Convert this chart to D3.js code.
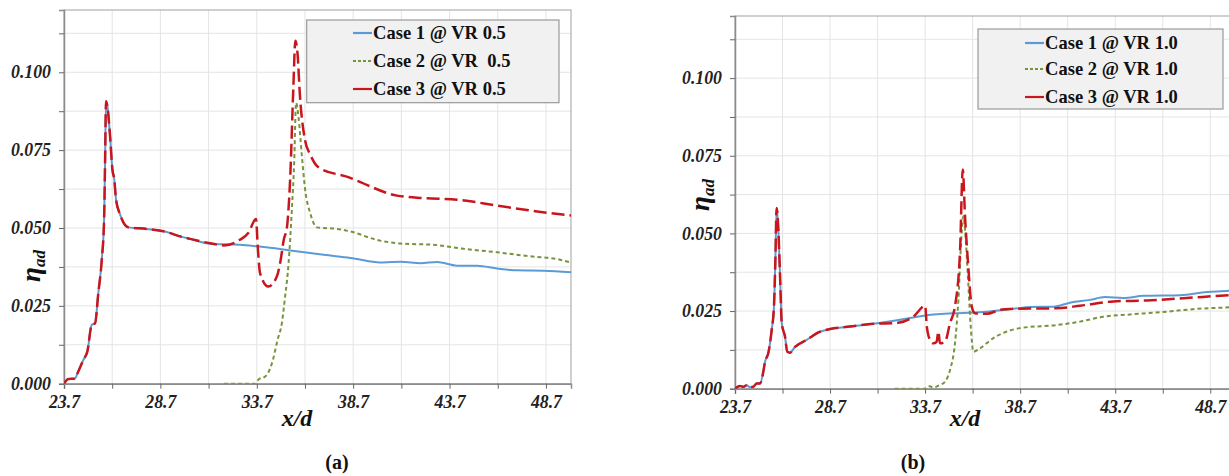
<!DOCTYPE html>
<html><head><meta charset="utf-8">
<script src="https://cdn.jsdelivr.net/npm/d3@7"></script>
<style>
html,body{margin:0;padding:0;background:#fff;}
svg text{font-family:"Liberation Serif","Times New Roman",serif;}
</style></head>
<body><svg id="chart" width="1229" height="476"></svg>
<script>
// ---------- DATA ----------
const xTickValues = [23.7, 26.2, 28.7, 31.2, 33.7, 36.2, 38.7, 41.2, 43.7, 46.2, 48.7];
const xTickLabels = ["23.7", "28.7", "33.7", "38.7", "43.7", "48.7"];
const yTickValues = [0, 0.0125, 0.025, 0.0375, 0.05, 0.0625, 0.075, 0.0875, 0.1, 0.1125];
const yTickLabels = ["0.000", "0.025", "0.050", "0.075", "0.100"];

const legendA = ["Case 1 @ VR 0.5", "Case 2 @ VR  0.5", "Case 3 @ VR 0.5"];
const legendB = ["Case 1 @ VR 1.0", "Case 2 @ VR 1.0", "Case 3 @ VR 1.0"];

const case1VR05 = [[23.7,0],[23.92,0.0015],[24.27,0.0017],[24.44,0.0039],[24.70,0.0076],[24.91,0.0103],[25.14,0.0189],[25.31,0.0194],[25.48,0.0291],[25.66,0.0398],[25.78,0.0527],[25.83,0.0709],[25.88,0.0907],[25.95,0.0891],[26.09,0.0795],[26.21,0.0688],[26.31,0.0655],[26.40,0.0591],[26.61,0.0543],[27.04,0.0502],[27.99,0.0497],[29.03,0.0487],[29.72,0.0473],[30.24,0.0465],[31.28,0.0449],[32.83,0.0446],[33.70,0.0441],[35.44,0.0428],[37.17,0.0414],[38.55,0.0404],[40.28,0.0389],[41.17,0.0392],[42.2,0.0387],[43.05,0.0391],[44.09,0.0379],[45.13,0.0379],[46.17,0.0370],[47.2,0.0364],[48.59,0.0363],[50.0,0.0358]];
const case2VR05 = [[32.0,0],[33.62,0],[33.80,0.0014],[34.14,0.0023],[34.49,0.0066],[34.78,0.0141],[35.0,0.0194],[35.17,0.0280],[35.35,0.0387],[35.52,0.0559],[35.64,0.0709],[35.74,0.0902],[35.86,0.0859],[36.04,0.0731],[36.21,0.0623],[36.47,0.0548],[36.82,0.0502],[37.85,0.0497],[38.55,0.0489],[39.92,0.0462],[41.14,0.0450],[42.87,0.0446],[44.43,0.0433],[46.17,0.0422],[47.90,0.0409],[49.29,0.0400],[50,0.0389]];
const case3VR05 = [[23.7,0],[23.92,0.0015],[24.27,0.0017],[24.44,0.0039],[24.70,0.0076],[24.91,0.0103],[25.14,0.0189],[25.31,0.0194],[25.48,0.0291],[25.66,0.0398],[25.78,0.0527],[25.83,0.0709],[25.88,0.0907],[25.95,0.0891],[26.09,0.0795],[26.21,0.0688],[26.31,0.0655],[26.40,0.0591],[26.61,0.0543],[27.04,0.0502],[27.99,0.0497],[29.03,0.0487],[29.72,0.0473],[30.24,0.0465],[31.28,0.0451],[32.0,0.0444],[32.83,0.0462],[33.26,0.0484],[33.66,0.0529],[33.75,0.0441],[33.87,0.0355],[34.30,0.0312],[34.74,0.0344],[34.91,0.0387],[35.12,0.0468],[35.25,0.0495],[35.43,0.0656],[35.60,0.0956],[35.70,0.1101],[35.81,0.1063],[35.94,0.0924],[36.21,0.0780],[36.47,0.0736],[36.90,0.0695],[38.55,0.0661],[38.9,0.0652],[40.97,0.0604],[42.35,0.0596],[44.09,0.0591],[46.17,0.0572],[48.24,0.0553],[50,0.0540]];

const case1VR10 = [[23.7,0],[23.96,0.0009],[24.14,0.0006],[24.32,0.0011],[24.49,0.0005],[24.66,0.0006],[24.84,0.0017],[25.02,0.0017],[25.19,0.0055],[25.28,0.0087],[25.45,0.0114],[25.63,0.0189],[25.75,0.0265],[25.82,0.0405],[25.89,0.0582],[25.98,0.0512],[26.07,0.0361],[26.16,0.0211],[26.33,0.0168],[26.45,0.0119],[26.59,0.0116],[26.86,0.0135],[27.47,0.0157],[28.08,0.0181],[28.7,0.0192],[29.75,0.0200],[30.98,0.0209],[32.38,0.0222],[33.7,0.0236],[35.18,0.0243],[36.24,0.0245],[38.34,0.0257],[39.22,0.0263],[40.44,0.0264],[41.32,0.0277],[42.37,0.0286],[43.16,0.0295],[44.13,0.0292],[45.18,0.0299],[47.11,0.0301],[48.51,0.0311],[49.68,0.0315],[50,0.0317]];
const case2VR10 = [[32.1,0],[33.7,0],[33.87,0.0009],[34.13,0.0004],[34.48,0.0012],[34.75,0.0023],[35.01,0.0060],[35.27,0.0146],[35.45,0.0286],[35.62,0.0501],[35.71,0.0555],[35.85,0.0469],[35.97,0.0340],[36.10,0.0200],[36.24,0.0119],[36.59,0.0130],[37.29,0.0163],[37.99,0.0184],[38.69,0.0195],[40.62,0.0205],[41.85,0.0216],[43.07,0.0232],[44.48,0.0239],[46.23,0.0247],[47.99,0.0257],[49.68,0.0262],[50,0.0263]];
const case3VR10 = [[23.7,0],[23.96,0.0009],[24.14,0.0006],[24.32,0.0011],[24.49,0.0005],[24.66,0.0006],[24.84,0.0017],[25.02,0.0017],[25.19,0.0055],[25.28,0.0087],[25.45,0.0114],[25.63,0.0189],[25.75,0.0265],[25.82,0.0405],[25.89,0.0582],[25.98,0.0512],[26.07,0.0361],[26.16,0.0211],[26.33,0.0168],[26.45,0.0119],[26.59,0.0116],[26.86,0.0135],[27.47,0.0157],[28.08,0.0181],[28.7,0.0192],[29.75,0.0200],[30.98,0.0209],[32.12,0.0211],[33.08,0.0232],[33.70,0.0267],[33.79,0.0200],[33.96,0.0157],[34.13,0.0146],[34.30,0.0150],[34.40,0.0184],[34.48,0.0146],[34.75,0.0152],[35.01,0.0211],[35.27,0.0265],[35.54,0.0447],[35.68,0.0706],[35.80,0.0555],[35.97,0.0394],[36.15,0.0265],[36.32,0.0243],[36.94,0.0241],[37.64,0.0254],[38.17,0.0257],[40.62,0.0259],[41.85,0.0267],[43.6,0.0281],[45.36,0.0284],[47.46,0.0292],[49.68,0.0301],[50,0.0302]];

// ---------- DRAWING ----------
const svg = d3.select("#chart");
const colors = ["#5b9bd5", "#77933c", "#c8161d"];
const dashes = [null, "4,3", "13,5"];
const widths = [2, 2, 2.5];

// size a font so that a sample text reaches a target width
function fitFont(weight, style, sample, target, base) {
  const t = svg.append("text").attr("font-size", base).attr("font-weight", weight)
    .attr("font-style", style).text(sample);
  const w = t.node().getComputedTextLength();
  t.remove();
  return w > 0 ? base * target / w : base;
}
const tickFont = fitFont("bold", "italic", "0.100", 40, 17);
const legendFont = fitFont("bold", "normal", "Case 1 @ VR 0.5", 133, 18);

function panel(cfg) {
  const x = d3.scaleLinear().domain([23.7, 50]).range([cfg.left, cfg.right]);
  const y = d3.scaleLinear().domain([0, 0.12]).range([cfg.bottom, cfg.top]);
  const g = svg.append("g");
  const clipId = "clip" + cfg.id;
  g.append("clipPath").attr("id", clipId).append("rect")
    .attr("x", cfg.left).attr("y", cfg.top)
    .attr("width", cfg.right - cfg.left).attr("height", cfg.bottom - cfg.top);

  // grid
  g.append("g").selectAll("line").data(xTickValues.slice(1)).join("line")
    .attr("x1", d => x(d)).attr("x2", d => x(d)).attr("y1", cfg.top).attr("y2", cfg.bottom)
    .attr("stroke", "#e4e4e4").attr("stroke-width", 1);
  g.append("g").selectAll("line").data(yTickValues.slice(1)).join("line")
    .attr("x1", cfg.left).attr("x2", cfg.right).attr("y1", d => y(d)).attr("y2", d => y(d))
    .attr("stroke", "#e4e4e4").attr("stroke-width", 1);

  // frame
  g.append("rect").attr("x", cfg.left).attr("y", cfg.top)
    .attr("width", cfg.right - cfg.left).attr("height", cfg.bottom - cfg.top)
    .attr("fill", "none").attr("stroke", "#a0a0a0").attr("stroke-width", 1);

  // axes
  const xAxis = d3.axisBottom(x).tickValues(xTickValues).tickSize(5).tickPadding(4)
    .tickFormat(d => xTickLabels.includes(d.toFixed(1)) ? d.toFixed(1) : "");
  const xa = g.append("g").attr("transform", `translate(0,${cfg.bottom})`).call(xAxis);
  const yAxis = d3.axisLeft(y).tickValues(yTickValues).tickSize(5).tickPadding(8)
    .tickFormat(d => yTickLabels.includes(d.toFixed(3)) ? d.toFixed(3) : "");
  const ya = g.append("g").attr("transform", `translate(${cfg.left},0)`).call(yAxis);
  [xa, ya].forEach(a => {
    a.select(".domain").attr("stroke", "#8c8c8c").attr("stroke-width", 1.5);
    a.selectAll(".tick line").attr("stroke", "#666");
    a.selectAll("text").attr("font-family", "Liberation Serif, serif")
      .attr("font-weight", "bold").attr("font-style", "italic")
      .attr("font-size", tickFont).attr("fill", "#222");
  });
  xa.selectAll("text").attr("dy", "0.85em");

  // lines
  const line = d3.line().x(d => x(d[0])).y(d => y(d[1])).curve(d3.curveMonotoneX);
  const lg = g.append("g").attr("clip-path", `url(#${clipId})`);
  cfg.series.forEach((s, i) => {
    lg.append("path").datum(s).attr("d", line)
      .attr("fill", "none").attr("stroke", colors[i]).attr("stroke-width", widths[i])
      .attr("stroke-dasharray", dashes[i]).attr("stroke-linejoin", "round");
  });

  // axis titles
  g.append("text").attr("x", cfg.xTitleX).attr("y", 426).attr("text-anchor", "middle")
    .attr("font-size", 24).attr("font-weight", "bold").attr("font-style", "italic")
    .attr("fill", "#111").text("x/d");
  const yt = g.append("text")
    .attr("transform", `translate(${cfg.yTitleX},${cfg.yTitleY}) rotate(-90)`)
    .attr("text-anchor", "middle").attr("font-size", 27).attr("font-weight", "bold")
    .attr("font-style", "italic").attr("fill", "#111");
  yt.append("tspan").text("η");
  yt.append("tspan").attr("font-size", 17).attr("dy", 5).text("ad");

  // panel label
  g.append("text").attr("x", cfg.labelX).attr("y", 469).attr("text-anchor", "middle")
    .attr("font-size", 20).attr("font-weight", "bold").attr("fill", "#111").text(cfg.label);

  // legend
  const L = cfg.legend;
  g.append("rect").attr("x", L.x).attr("y", L.y).attr("width", L.w).attr("height", L.h)
    .attr("fill", "#f1f1f1").attr("stroke", "#9a9a9a").attr("stroke-width", 1.2);
  cfg.legendLabels.forEach((t, i) => {
    const cy = L.rows[i];
    g.append("line").attr("x1", L.sx).attr("x2", L.sx + 19).attr("y1", cy).attr("y2", cy)
      .attr("stroke", colors[i]).attr("stroke-width", 2.2)
      .attr("stroke-dasharray", i === 1 ? "3,2" : null);
    g.append("text").attr("x", L.sx + 20).attr("y", cy).attr("dy", "0.35em")
      .attr("font-size", legendFont).attr("font-weight", "bold").attr("fill", "#111")
      .attr("xml:space", "preserve").style("white-space", "pre").text(t);
  });
}

panel({
  id: "a", left: 64, right: 571, top: 10, bottom: 383.7,
  series: [case1VR05, case2VR05, case3VR05],
  xTitleX: 297, yTitleX: 40, yTitleY: 266, labelX: 337, label: "(a)",
  legend: {x: 306.7, y: 20, w: 252.3, h: 82.7, sx: 353, rows: [33, 61, 89]},
  legendLabels: legendA
});
panel({
  id: "b", left: 735, right: 1235, top: 16, bottom: 388.7,
  series: [case1VR10, case2VR10, case3VR10],
  xTitleX: 965, yTitleX: 709, yTitleY: 195, labelX: 913, label: "(b)",
  legend: {x: 978, y: 29, w: 245, h: 80, sx: 1025, rows: [43, 69, 97]},
  legendLabels: legendB
});
</script></body></html>
